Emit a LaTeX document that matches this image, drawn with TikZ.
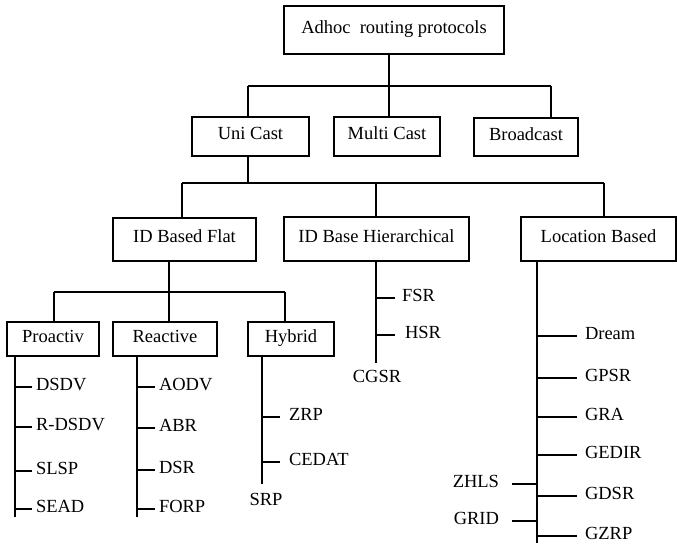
\documentclass[tikz,border=0pt]{standalone}
\usepackage{fontspec}
\setmainfont{Liberation Serif}

\begin{document}
\begin{tikzpicture}[x=1pt,y=-1pt,line width=2pt,
  box/.style={draw,inner sep=0pt,text height=.66em,text depth=0pt,
    font=\fontsize{18.5}{22}\selectfont},
  leaf/.style={inner sep=0pt,inner xsep=#1,text height=.66em,text depth=0pt,
    anchor=west,font=\fontsize{18.5}{22}\selectfont},
  leaf/.default=3pt]

\useasboundingbox (0,0) rectangle (677,550);

% Radice
\node[box,minimum width=220,minimum height=48] (root) at (394,30) {Adhoc\ \ routing protocols};

% Secondo livello
\node[box,minimum width=117,minimum height=39] (uni) at (250.5,136.5) {Uni Cast};
\node[box,minimum width=106,minimum height=39] (multi) at (387,136.5) {Multi Cast};
\node[box,minimum width=104,minimum height=38] (broad) at (526,137) {Broadcast};

\coordinate (a0) at (389,86);
\coordinate (a1) at (248,86);
\coordinate (a2) at (551,86);
\draw (a0 |- root.south) -- (a0) -- (a0 |- multi.north);
\draw (a1) -- (a2);
\draw (a1) -- (a1 |- uni.north);
\draw (a2) -- (a2 |- broad.north);

% Terzo livello
\node[box,minimum width=143,minimum height=43] (flat) at (184.5,239.5) {ID Based Flat};
\node[box,minimum width=185,minimum height=44] (hier) at (376.5,239) {ID Base Hierarchical};
\node[box,minimum width=155,minimum height=44] (loc) at (598.5,239) {Location Based};

\coordinate (b0) at (248,183);
\coordinate (b1) at (182,183);
\coordinate (b2) at (604,183);
\coordinate (b3) at (376,183);
\draw (b0 |- uni.south) -- (b0);
\draw (b1) -- (b2);
\draw (b1) -- (b1 |- flat.north);
\draw (b3) -- (b3 |- hier.north);
\draw (b2) -- (b2 |- loc.north);

% Quarto livello
\node[box,minimum width=92,minimum height=34] (proactiv) at (53,339) {Proactiv};
\node[box,minimum width=104,minimum height=34] (reactive) at (165,339) {Reactive};
\node[box,minimum width=86,minimum height=34] (hybrid) at (291,339) {Hybrid};

\coordinate (c1) at (54,292);
\coordinate (c2) at (285,292);
\coordinate (c3) at (169,292);
\draw (c1) -- (c2);
\draw (c3 |- flat.south) -- (c3) -- (c3 |- reactive.north);
\draw (c1) -- (c1 |- proactiv.north);
\draw (c2) -- (c2 |- hybrid.north);

% Proattivi
\coordinate (pe) at (15,517);
\node[leaf] (dsdv) at (32,387) {DSDV};
\node[leaf] (rdsdv) at (32,427) {R-DSDV};
\node[leaf] (slsp) at (32,471) {SLSP};
\node[leaf] (sead) at (32,509) {SEAD};
\draw (pe |- proactiv.south) -- (pe);
\draw (pe |- dsdv) -- (dsdv.west);
\draw (pe |- rdsdv) -- (rdsdv.west);
\draw (pe |- slsp) -- (slsp.west);
\draw (pe |- sead) -- (sead.west);

% Reattivi
\coordinate (re) at (137,517);
\node[leaf] (aodv) at (155,387) {AODV};
\node[leaf] (abr) at (155,428) {ABR};
\node[leaf] (dsr) at (155,470) {DSR};
\node[leaf] (forp) at (155,509) {FORP};
\draw (re |- reactive.south) -- (re);
\draw (re |- aodv) -- (aodv.west);
\draw (re |- abr) -- (abr.west);
\draw (re |- dsr) -- (dsr.west);
\draw (re |- forp) -- (forp.west);

% Ibridi
\coordinate (ye) at (262,484);
\node[leaf=8pt] (zrp) at (280,417) {ZRP};
\node[leaf=8pt] (cedat) at (280,462) {CEDAT};
\node[leaf,anchor=center] (srp) at (266,502) {SRP};
\draw (ye |- hybrid.south) -- (ye);
\draw (ye |- zrp) -- (zrp.west);
\draw (ye |- cedat) -- (cedat.west);

% Gerarchici
\coordinate (he) at (376,363);
\node[leaf=6pt] (fsr) at (395,298) {FSR};
\node[leaf=9pt] (hsr) at (395,335) {HSR};
\node[leaf,anchor=center] (cgsr) at (377,379) {CGSR};
\draw (he |- hier.south) -- (he);
\draw (he |- fsr) -- (fsr.west);
\draw (he |- hsr) -- (hsr.west);

% Basati sulla posizione
\coordinate (le) at (537,543);
\node[leaf=7pt] (dream) at (577,336) {Dream};
\node[leaf=7pt] (gpsr) at (577,378) {GPSR};
\node[leaf=7pt] (gra) at (577,417) {GRA};
\node[leaf=7pt] (gedir) at (577,455) {GEDIR};
\node[leaf=7pt] (gdsr) at (577,496) {GDSR};
\node[leaf=7pt] (gzrp) at (577,536) {GZRP};
\node[leaf=12pt,anchor=east] (zhls) at (512,484) {ZHLS};
\node[leaf=12pt,anchor=east] (grid) at (512,521) {GRID};
\draw (le |- loc.south) -- (le);
\draw (le |- dream) -- (dream.west);
\draw (le |- gpsr) -- (gpsr.west);
\draw (le |- gra) -- (gra.west);
\draw (le |- gedir) -- (gedir.west);
\draw (le |- gdsr) -- (gdsr.west);
\draw (le |- gzrp) -- (gzrp.west);
\draw (zhls.east) -- (le |- zhls);
\draw (grid.east) -- (le |- grid);

\end{tikzpicture}
\end{document}
